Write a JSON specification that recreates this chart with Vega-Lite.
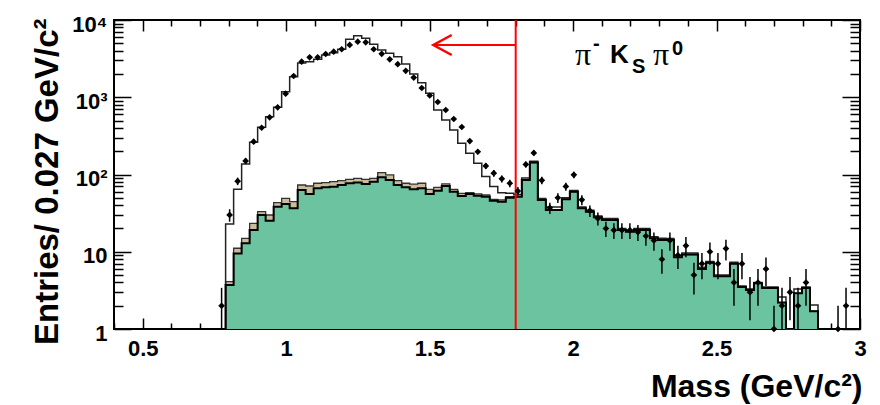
{
  "$schema": "https://vega.github.io/schema/vega-lite/v6.json",
  "width": 746,
  "height": 309,
  "autosize": {"type": "none"},
  "padding": {"left": 114, "top": 20, "right": 20, "bottom": 76},
  "background": "white",
  "config": {
    "view": {"stroke": "black", "strokeWidth": 2},
    "font": "Liberation Sans",
    "axis": {"domain": false, "grid": false, "tickColor": "black", "tickWidth": 1.5}
  },
  "datasets": {
    "bins": [
      {"k": -1, "lo": 0.789, "hi": 0.789, "g": 1, "t": 1, "w": 1},
      {"k": 0, "lo": 0.789, "hi": 0.8169, "g": 3.7, "t": 4.1, "w": 22.9},
      {"k": 1, "lo": 0.8169, "hi": 0.8448, "g": 9.5, "t": 11.1, "w": 64.3},
      {"k": 2, "lo": 0.8448, "hi": 0.8727, "g": 12.9, "t": 14.9, "w": 137},
      {"k": 3, "lo": 0.8727, "hi": 0.9006, "g": 19.1, "t": 23.3, "w": 261},
      {"k": 4, "lo": 0.9006, "hi": 0.9285, "g": 29.9, "t": 33, "w": 408},
      {"k": 5, "lo": 0.9285, "hi": 0.9564, "g": 25.2, "t": 29.9, "w": 560},
      {"k": 6, "lo": 0.9564, "hi": 0.9843, "g": 38.3, "t": 43.2, "w": 741},
      {"k": 7, "lo": 0.9843, "hi": 1.0122, "g": 41.5, "t": 49.2, "w": 1180},
      {"k": 8, "lo": 1.0122, "hi": 1.0401, "g": 36.5, "t": 44.5, "w": 1845},
      {"k": 9, "lo": 1.0401, "hi": 1.068, "g": 63, "t": 73.1, "w": 2775},
      {"k": 10, "lo": 1.068, "hi": 1.0959, "g": 56, "t": 71, "w": 2886},
      {"k": 11, "lo": 1.0959, "hi": 1.1238, "g": 66.3, "t": 77, "w": 3100},
      {"k": 12, "lo": 1.1238, "hi": 1.1517, "g": 68.3, "t": 78.5, "w": 3524},
      {"k": 13, "lo": 1.1517, "hi": 1.1796, "g": 69.5, "t": 80.7, "w": 3776},
      {"k": 14, "lo": 1.1796, "hi": 1.2075, "g": 73.1, "t": 83.2, "w": 4180},
      {"k": 15, "lo": 1.2075, "hi": 1.2354, "g": 77, "t": 86.7, "w": 5624},
      {"k": 16, "lo": 1.2354, "hi": 1.2633, "g": 78.5, "t": 89.3, "w": 6270},
      {"k": 17, "lo": 1.2633, "hi": 1.2912, "g": 75.4, "t": 86.7, "w": 5800},
      {"k": 18, "lo": 1.2912, "hi": 1.3191, "g": 80.7, "t": 89.3, "w": 4845},
      {"k": 19, "lo": 1.3191, "hi": 1.347, "g": 92, "t": 105.5, "w": 4090},
      {"k": 20, "lo": 1.347, "hi": 1.3749, "g": 84.9, "t": 98.6, "w": 3706},
      {"k": 21, "lo": 1.3749, "hi": 1.4028, "g": 73.1, "t": 83.2, "w": 3350},
      {"k": 22, "lo": 1.4028, "hi": 1.4307, "g": 68.3, "t": 77, "w": 2700},
      {"k": 23, "lo": 1.4307, "hi": 1.4586, "g": 64.3, "t": 74.9, "w": 2000},
      {"k": 24, "lo": 1.4586, "hi": 1.4865, "g": 66.3, "t": 77, "w": 1544},
      {"k": 25, "lo": 1.4865, "hi": 1.5144, "g": 56, "t": 64.3, "w": 1125},
      {"k": 26, "lo": 1.5144, "hi": 1.5423, "g": 61.7, "t": 68.3, "w": 684},
      {"k": 27, "lo": 1.5423, "hi": 1.5702, "g": 71, "t": 75.4, "w": 508},
      {"k": 28, "lo": 1.5702, "hi": 1.5981, "g": 59.9, "t": 64.3, "w": 377},
      {"k": 29, "lo": 1.5981, "hi": 1.626, "g": 52.7, "t": 57.1, "w": 253},
      {"k": 30, "lo": 1.626, "hi": 1.6539, "g": 56, "t": 58.2, "w": 188},
      {"k": 31, "lo": 1.6539, "hi": 1.6818, "g": 53.2, "t": 56, "w": 140},
      {"k": 32, "lo": 1.6818, "hi": 1.7097, "g": 51.5, "t": 54.3, "w": 94},
      {"k": 33, "lo": 1.7097, "hi": 1.7376, "g": 45.8, "t": 47.7, "w": 70},
      {"k": 34, "lo": 1.7376, "hi": 1.7655, "g": 44.5, "t": 46.8, "w": 58},
      {"k": 35, "lo": 1.7655, "hi": 1.7934, "g": 50.1, "t": 51.5, "w": 57},
      {"k": 36, "lo": 1.7934, "hi": 1.8213, "g": 51.5, "t": 52, "w": 55},
      {"k": 37, "lo": 1.8213, "hi": 1.8492, "g": 85, "t": 85, "w": 90},
      {"k": 38, "lo": 1.8492, "hi": 1.8771, "g": 143, "t": 143, "w": 148},
      {"k": 39, "lo": 1.8771, "hi": 1.905, "g": 46.8, "t": 46.8, "w": 49},
      {"k": 40, "lo": 1.905, "hi": 1.9329, "g": 34.7, "t": 34.7, "w": 38},
      {"k": 41, "lo": 1.9329, "hi": 1.9608, "g": 34.7, "t": 34.7, "w": 38},
      {"k": 42, "lo": 1.9608, "hi": 1.9887, "g": 47.7, "t": 47.7, "w": 50},
      {"k": 43, "lo": 1.9887, "hi": 2.0166, "g": 59.9, "t": 59.9, "w": 62},
      {"k": 44, "lo": 2.0166, "hi": 2.0445, "g": 36.5, "t": 36.5, "w": 38},
      {"k": 45, "lo": 2.0445, "hi": 2.0724, "g": 33, "t": 33, "w": 34.5},
      {"k": 46, "lo": 2.0724, "hi": 2.1003, "g": 27.9, "t": 27.9, "w": 29},
      {"k": 47, "lo": 2.1003, "hi": 2.1282, "g": 25.8, "t": 25.8, "w": 27},
      {"k": 48, "lo": 2.1282, "hi": 2.1561, "g": 25.8, "t": 25.8, "w": 27},
      {"k": 49, "lo": 2.1561, "hi": 2.184, "g": 19.1, "t": 19.1, "w": 20},
      {"k": 50, "lo": 2.184, "hi": 2.2119, "g": 18.2, "t": 18.2, "w": 19},
      {"k": 51, "lo": 2.2119, "hi": 2.2398, "g": 19.1, "t": 19.1, "w": 20},
      {"k": 52, "lo": 2.2398, "hi": 2.2677, "g": 19.1, "t": 19.1, "w": 20},
      {"k": 53, "lo": 2.2677, "hi": 2.2956, "g": 14.9, "t": 14.9, "w": 15.6},
      {"k": 54, "lo": 2.2956, "hi": 2.3235, "g": 14.2, "t": 14.2, "w": 15},
      {"k": 55, "lo": 2.3235, "hi": 2.3514, "g": 14.2, "t": 14.2, "w": 14.8},
      {"k": 56, "lo": 2.3514, "hi": 2.3793, "g": 8.5, "t": 8.5, "w": 9},
      {"k": 57, "lo": 2.3793, "hi": 2.4072, "g": 9.2, "t": 9.2, "w": 9.6},
      {"k": 58, "lo": 2.4072, "hi": 2.4351, "g": 9.2, "t": 9.2, "w": 9.6},
      {"k": 59, "lo": 2.4351, "hi": 2.463, "g": 6, "t": 6, "w": 6.3},
      {"k": 60, "lo": 2.463, "hi": 2.4909, "g": 7.2, "t": 7.2, "w": 7.5},
      {"k": 61, "lo": 2.4909, "hi": 2.5188, "g": 4.8, "t": 4.8, "w": 5},
      {"k": 62, "lo": 2.5188, "hi": 2.5467, "g": 4.8, "t": 4.8, "w": 5},
      {"k": 63, "lo": 2.5467, "hi": 2.5746, "g": 7, "t": 7, "w": 7.3},
      {"k": 64, "lo": 2.5746, "hi": 2.6025, "g": 3.5, "t": 3.5, "w": 3.6},
      {"k": 65, "lo": 2.6025, "hi": 2.6304, "g": 3.2, "t": 3.2, "w": 3.3},
      {"k": 66, "lo": 2.6304, "hi": 2.6583, "g": 3.9, "t": 3.9, "w": 4},
      {"k": 67, "lo": 2.6583, "hi": 2.6862, "g": 3.4, "t": 3.4, "w": 3.5},
      {"k": 68, "lo": 2.6862, "hi": 2.7141, "g": 3.4, "t": 3.4, "w": 3.5},
      {"k": 69, "lo": 2.7141, "hi": 2.742, "g": 2.2, "t": 2.2, "w": 2.6},
      {"k": 70, "lo": 2.742, "hi": 2.7699, "g": 1, "t": 1, "w": 1},
      {"k": 71, "lo": 2.7699, "hi": 2.7978, "g": 2.9, "t": 2.9, "w": 3.3},
      {"k": 72, "lo": 2.7978, "hi": 2.8257, "g": 3.4, "t": 3.4, "w": 3.5},
      {"k": 73, "lo": 2.8257, "hi": 2.8536, "g": 1.7, "t": 1.7, "w": 2.05},
      {"k": 74, "lo": 2.8536, "hi": 2.8536, "g": 1, "t": 1, "w": 1}
    ],
    "points": [
      {"m": 0.775, "n": 2, "lo": 0.59, "hi": 3.41},
      {"m": 0.803, "n": 30, "lo": 24.5, "hi": 35.5},
      {"m": 0.8309, "n": 82, "lo": 72.9, "hi": 91.1},
      {"m": 0.8588, "n": 150, "lo": 137.8, "hi": 162.2},
      {"m": 0.8867, "n": 266, "lo": 249.7, "hi": 282.3},
      {"m": 0.9146, "n": 403, "lo": 382.9, "hi": 423.1},
      {"m": 0.9425, "n": 550, "lo": 526.5, "hi": 573.5},
      {"m": 0.9704, "n": 741, "lo": 713.8, "hi": 768.2},
      {"m": 0.9983, "n": 1112, "lo": 1078.7, "hi": 1145.3},
      {"m": 1.0262, "n": 1884, "lo": 1840.6, "hi": 1927.4},
      {"m": 1.0541, "n": 2886, "lo": 2832.3, "hi": 2939.7},
      {"m": 1.082, "n": 3290, "lo": 3232.6, "hi": 3347.4},
      {"m": 1.1099, "n": 3290, "lo": 3232.6, "hi": 3347.4},
      {"m": 1.1378, "n": 3630, "lo": 3569.8, "hi": 3690.2},
      {"m": 1.1657, "n": 3890, "lo": 3827.6, "hi": 3952.4},
      {"m": 1.1936, "n": 4180, "lo": 4115.3, "hi": 4244.7},
      {"m": 1.2215, "n": 4750, "lo": 4681.1, "hi": 4818.9},
      {"m": 1.2494, "n": 5240, "lo": 5167.6, "hi": 5312.4},
      {"m": 1.2773, "n": 5140, "lo": 5068.3, "hi": 5211.7},
      {"m": 1.3052, "n": 4180, "lo": 4115.3, "hi": 4244.7},
      {"m": 1.3331, "n": 3650, "lo": 3589.6, "hi": 3710.4},
      {"m": 1.361, "n": 3100, "lo": 3044.3, "hi": 3155.7},
      {"m": 1.3889, "n": 2680, "lo": 2628.2, "hi": 2731.8},
      {"m": 1.4168, "n": 2200, "lo": 2153.1, "hi": 2246.9},
      {"m": 1.4447, "n": 1800, "lo": 1757.6, "hi": 1842.4},
      {"m": 1.4726, "n": 1318, "lo": 1281.7, "hi": 1354.3},
      {"m": 1.5005, "n": 1054, "lo": 1021.5, "hi": 1086.5},
      {"m": 1.5284, "n": 868, "lo": 838.5, "hi": 897.5},
      {"m": 1.5563, "n": 684, "lo": 657.8, "hi": 710.2},
      {"m": 1.5842, "n": 523, "lo": 500.1, "hi": 545.9},
      {"m": 1.6121, "n": 412, "lo": 391.7, "hi": 432.3},
      {"m": 1.64, "n": 271, "lo": 254.5, "hi": 287.5},
      {"m": 1.6679, "n": 197, "lo": 183, "hi": 211},
      {"m": 1.6958, "n": 129, "lo": 117.6, "hi": 140.4},
      {"m": 1.7237, "n": 104, "lo": 93.8, "hi": 114.2},
      {"m": 1.7516, "n": 88, "lo": 78.6, "hi": 97.4},
      {"m": 1.7795, "n": 77, "lo": 68.2, "hi": 85.8},
      {"m": 1.8074, "n": 61, "lo": 53.2, "hi": 68.8},
      {"m": 1.8353, "n": 135, "lo": 123.4, "hi": 146.6},
      {"m": 1.8632, "n": 190, "lo": 176.2, "hi": 203.8},
      {"m": 1.8911, "n": 84, "lo": 74.8, "hi": 93.2},
      {"m": 1.919, "n": 37, "lo": 30.9, "hi": 43.1},
      {"m": 1.9469, "n": 50, "lo": 42.9, "hi": 57.1},
      {"m": 1.9748, "n": 70, "lo": 61.6, "hi": 78.4},
      {"m": 2.0027, "n": 99, "lo": 89.1, "hi": 108.9},
      {"m": 2.0306, "n": 47, "lo": 40.1, "hi": 53.9},
      {"m": 2.0585, "n": 34, "lo": 28.2, "hi": 39.8},
      {"m": 2.0864, "n": 27, "lo": 21.8, "hi": 32.2},
      {"m": 2.1143, "n": 20, "lo": 15.5, "hi": 24.5},
      {"m": 2.1422, "n": 19, "lo": 14.6, "hi": 23.4},
      {"m": 2.1701, "n": 19, "lo": 14.6, "hi": 23.4},
      {"m": 2.198, "n": 19, "lo": 14.6, "hi": 23.4},
      {"m": 2.2259, "n": 18, "lo": 13.8, "hi": 22.2},
      {"m": 2.2538, "n": 16, "lo": 12, "hi": 20},
      {"m": 2.2817, "n": 14, "lo": 10.3, "hi": 17.7},
      {"m": 2.3096, "n": 8, "lo": 5.2, "hi": 10.8},
      {"m": 2.3375, "n": 14, "lo": 10.3, "hi": 17.7},
      {"m": 2.3654, "n": 9, "lo": 6, "hi": 12},
      {"m": 2.3933, "n": 12, "lo": 8.5, "hi": 15.5},
      {"m": 2.4212, "n": 5, "lo": 2.8, "hi": 7.2},
      {"m": 2.4491, "n": 7, "lo": 4.4, "hi": 9.6},
      {"m": 2.477, "n": 10, "lo": 6.8, "hi": 13.2},
      {"m": 2.5049, "n": 7, "lo": 4.4, "hi": 9.6},
      {"m": 2.5328, "n": 11, "lo": 7.7, "hi": 14.3},
      {"m": 2.5607, "n": 4, "lo": 2, "hi": 6},
      {"m": 2.5886, "n": 7, "lo": 4.4, "hi": 9.6},
      {"m": 2.6165, "n": 3, "lo": 1.3, "hi": 4.7},
      {"m": 2.6444, "n": 4, "lo": 2, "hi": 6},
      {"m": 2.6723, "n": 6, "lo": 3.6, "hi": 8.4},
      {"m": 2.7002, "n": 1, "lo": 0.1, "hi": 2},
      {"m": 2.7281, "n": 2, "lo": 0.59, "hi": 3.41},
      {"m": 2.756, "n": 3, "lo": 1.3, "hi": 4.7},
      {"m": 2.7839, "n": 2, "lo": 0.59, "hi": 3.41},
      {"m": 2.8118, "n": 4, "lo": 2, "hi": 6},
      {"m": 2.9234, "n": 1, "lo": 0.1, "hi": 2},
      {"m": 2.9513, "n": 2, "lo": 0.59, "hi": 3.41}
    ],
    "arrowShaft": [
      {"o": 0, "m": 1.8, "v": 4747},
      {"o": 1, "m": 1.5129, "v": 4747}
    ],
    "arrowHead": [
      {"o": 0, "m": 1.577, "v": 6397},
      {"o": 1, "m": 1.5129, "v": 4747},
      {"o": 2, "m": 1.577, "v": 3523}
    ]
  },
  "resolve": {"axis": {"x": "independent", "y": "independent"}},
  "layer": [
    {
      "data": {"name": "bins"},
      "transform": [{"filter": "datum.k >= 0"}],
      "mark": {"type": "area", "interpolate": "step-after", "color": "#c9bd9b", "opacity": 1},
      "encoding": {
        "x": {
          "field": "lo", "type": "quantitative",
          "scale": {"domain": [0.4, 3], "nice": false, "zero": false},
          "axis": {
            "orient": "bottom",
            "values": [0.5, 1, 1.5, 2, 2.5, 3],
            "format": "~g",
            "ticks": false,
            "labelFlush": false, "labelOverlap": false,
            "labelFont": "Liberation Sans", "labelFontWeight": "bold",
            "labelFontSize": 22, "labelColor": "black", "labelPadding": 9,
            "title": "Mass (GeV/c²)",
            "titleFont": "Liberation Sans", "titleFontWeight": "bold",
            "titleFontSize": 32, "titleColor": "black",
            "titleAnchor": "end", "titleAlign": "right",
            "titleBaseline": "alphabetic", "titleX": 748, "titleY": 67
          }
        },
        "y": {
          "field": "t", "type": "quantitative", "stack": null,
          "scale": {"type": "log", "domain": [1, 10000], "nice": false},
          "axis": {
            "orient": "left",
            "values": [1, 10, 100, 1000, 10000],
            "labelExpr": "datum.value == 1 ? '1' : datum.value == 10 ? '10' : datum.value == 100 ? '10²' : datum.value == 1000 ? '10³' : '10⁴'",
            "ticks": false,
            "labelFlush": false, "labelOverlap": false,
            "labelFont": "Liberation Sans", "labelFontWeight": "bold",
            "labelFontSize": 22, "labelColor": "black", "labelPadding": 7,
            "labelBaseline": "middle", "labelOffset": 4,
            "title": "Entries/ 0.027 GeV/c²",
            "titleFont": "Liberation Sans", "titleFontWeight": "bold",
            "titleFontSize": 33, "titleColor": "black",
            "titleAnchor": "end", "titleAlign": "right",
            "titleBaseline": "alphabetic", "titleX": -57, "titleY": -2
          }
        },
        "y2": {"datum": 1}
      }
    },
    {
      "data": {"name": "bins"},
      "transform": [{"filter": "datum.k >= 0"}],
      "mark": {"type": "area", "interpolate": "step-after", "color": "#6cc3a0", "opacity": 1},
      "encoding": {
        "x": {
          "field": "lo", "type": "quantitative",
          "scale": {"domain": [0.4, 3], "nice": false, "zero": false},
          "axis": {
            "orient": "bottom", "offset": -11, "tickSize": 11,
            "values": [0.5, 1, 1.5, 2, 2.5, 3],
            "labels": false, "title": null
          }
        },
        "y": {
          "field": "g", "type": "quantitative", "stack": null,
          "scale": {"type": "log", "domain": [1, 10000], "nice": false},
          "axis": {
            "orient": "left", "offset": -17, "tickSize": 17,
            "values": [1, 10, 100, 1000, 10000],
            "labels": false, "title": null
          }
        },
        "y2": {"datum": 1}
      }
    },
    {
      "data": {"name": "bins"},
      "mark": {"type": "line", "interpolate": "step-after", "color": "#333333", "strokeWidth": 1.3},
      "encoding": {
        "x": {
          "field": "lo", "type": "quantitative",
          "scale": {"domain": [0.4, 3], "nice": false, "zero": false},
          "axis": {
            "orient": "bottom", "offset": -6, "tickSize": 6,
            "values": [0.4, 0.6, 0.7, 0.8, 0.9, 1.1, 1.2, 1.3, 1.4, 1.6, 1.7, 1.8, 1.9, 2.1, 2.2, 2.3, 2.4, 2.6, 2.7, 2.8, 2.9],
            "labels": false, "title": null
          }
        },
        "y": {
          "field": "t", "type": "quantitative",
          "scale": {"type": "log", "domain": [1, 10000], "nice": false},
          "axis": {
            "orient": "left", "offset": -9, "tickSize": 9,
            "values": [2, 3, 4, 5, 6, 7, 8, 9, 20, 30, 40, 50, 60, 70, 80, 90, 200, 300, 400, 500, 600, 700, 800, 900, 2000, 3000, 4000, 5000, 6000, 7000, 8000, 9000],
            "labels": false, "title": null
          }
        },
        "order": {"field": "k", "type": "quantitative"}
      }
    },
    {
      "data": {"name": "bins"},
      "mark": {"type": "line", "interpolate": "step-after", "color": "#222222", "strokeWidth": 1.5, "clip": true},
      "encoding": {
        "x": {
          "field": "lo", "type": "quantitative",
          "scale": {"domain": [0.4, 3], "nice": false, "zero": false},
          "axis": {
            "orient": "top", "offset": -11, "tickSize": 11,
            "values": [0.5, 1, 1.5, 2, 2.5, 3],
            "labels": false, "title": null
          }
        },
        "y": {
          "field": "w", "type": "quantitative",
          "scale": {"type": "log", "domain": [1, 10000], "nice": false},
          "axis": {
            "orient": "right", "offset": -18, "tickSize": 18,
            "values": [1, 10, 100, 1000, 10000],
            "labels": false, "title": null
          }
        },
        "order": {"field": "k", "type": "quantitative"}
      }
    },
    {
      "data": {"name": "bins"},
      "mark": {"type": "line", "interpolate": "step-after", "color": "black", "strokeWidth": 2, "clip": true},
      "encoding": {
        "x": {
          "field": "lo", "type": "quantitative",
          "scale": {"domain": [0.4, 3], "nice": false, "zero": false},
          "axis": {
            "orient": "top", "offset": -6, "tickSize": 6,
            "values": [0.4, 0.6, 0.7, 0.8, 0.9, 1.1, 1.2, 1.3, 1.4, 1.6, 1.7, 1.8, 1.9, 2.1, 2.2, 2.3, 2.4, 2.6, 2.7, 2.8, 2.9],
            "labels": false, "title": null
          }
        },
        "y": {
          "field": "g", "type": "quantitative",
          "scale": {"type": "log", "domain": [1, 10000], "nice": false},
          "axis": {
            "orient": "right", "offset": -10, "tickSize": 10,
            "values": [2, 3, 4, 5, 6, 7, 8, 9, 20, 30, 40, 50, 60, 70, 80, 90, 200, 300, 400, 500, 600, 700, 800, 900, 2000, 3000, 4000, 5000, 6000, 7000, 8000, 9000],
            "labels": false, "title": null
          }
        },
        "order": {"field": "k", "type": "quantitative"}
      }
    },
    {
      "data": {"values": [{"cut": 1.8}]},
      "mark": {"type": "rule", "color": "#ff0000", "strokeWidth": 2},
      "encoding": {
        "x": {"field": "cut", "type": "quantitative", "scale": {"domain": [0.4, 3], "nice": false, "zero": false}, "axis": null}
      }
    },
    {
      "data": {"name": "arrowShaft"},
      "mark": {"type": "line", "color": "#ff0000", "strokeWidth": 2},
      "encoding": {
        "x": {"field": "m", "type": "quantitative", "scale": {"domain": [0.4, 3], "nice": false, "zero": false}, "axis": null},
        "y": {"field": "v", "type": "quantitative", "scale": {"type": "log", "domain": [1, 10000], "nice": false}, "axis": null},
        "order": {"field": "o", "type": "quantitative"}
      }
    },
    {
      "data": {"name": "arrowHead"},
      "mark": {"type": "line", "color": "#ff0000", "strokeWidth": 2.5, "strokeJoin": "miter"},
      "encoding": {
        "x": {"field": "m", "type": "quantitative", "scale": {"domain": [0.4, 3], "nice": false, "zero": false}, "axis": null},
        "y": {"field": "v", "type": "quantitative", "scale": {"type": "log", "domain": [1, 10000], "nice": false}, "axis": null},
        "order": {"field": "o", "type": "quantitative"}
      }
    },
    {
      "data": {"name": "points"},
      "mark": {"type": "rule", "color": "black", "strokeWidth": 1.5, "clip": true},
      "encoding": {
        "x": {"field": "m", "type": "quantitative", "scale": {"domain": [0.4, 3], "nice": false, "zero": false}, "axis": null},
        "y": {"field": "lo", "type": "quantitative", "scale": {"type": "log", "domain": [1, 10000], "nice": false}, "axis": null},
        "y2": {"field": "hi"}
      }
    },
    {
      "data": {"name": "points"},
      "mark": {"type": "point", "shape": "diamond", "filled": true, "color": "black", "size": 45, "opacity": 1},
      "encoding": {
        "x": {"field": "m", "type": "quantitative", "scale": {"domain": [0.4, 3], "nice": false, "zero": false}, "axis": null},
        "y": {"field": "n", "type": "quantitative", "scale": {"type": "log", "domain": [1, 10000], "nice": false}, "axis": null}
      }
    },
    {
      "data": {"values": [{"m": 2.0067, "v": 2614, "s": "π"}, {"m": 2.2786, "v": 2614, "s": "π"}]},
      "mark": {"type": "text", "font": "Liberation Serif", "fontSize": 32, "color": "black", "align": "left", "baseline": "alphabetic"},
      "encoding": {
        "x": {"field": "m", "type": "quantitative", "scale": {"domain": [0.4, 3], "nice": false, "zero": false}, "axis": null},
        "y": {"field": "v", "type": "quantitative", "scale": {"type": "log", "domain": [1, 10000], "nice": false}, "axis": null},
        "text": {"field": "s"}
      }
    },
    {
      "data": {"values": [{"m": 2.1287, "v": 2776, "s": "K"}]},
      "mark": {"type": "text", "font": "Liberation Sans", "fontWeight": "bold", "fontSize": 26, "color": "black", "align": "left", "baseline": "alphabetic"},
      "encoding": {
        "x": {"field": "m", "type": "quantitative", "scale": {"domain": [0.4, 3], "nice": false, "zero": false}, "axis": null},
        "y": {"field": "v", "type": "quantitative", "scale": {"type": "log", "domain": [1, 10000], "nice": false}, "axis": null},
        "text": {"field": "s"}
      }
    },
    {
      "data": {"values": [{"m": 2.2054, "v": 2060, "s": "S"}, {"m": 2.3448, "v": 3523, "s": "0"}, {"m": 2.0695, "v": 4090, "s": "-"}]},
      "mark": {"type": "text", "font": "Liberation Sans", "fontWeight": "bold", "fontSize": 20, "color": "black", "align": "left", "baseline": "alphabetic"},
      "encoding": {
        "x": {"field": "m", "type": "quantitative", "scale": {"domain": [0.4, 3], "nice": false, "zero": false}, "axis": null},
        "y": {"field": "v", "type": "quantitative", "scale": {"type": "log", "domain": [1, 10000], "nice": false}, "axis": null},
        "text": {"field": "s"}
      }
    }
  ]
}
